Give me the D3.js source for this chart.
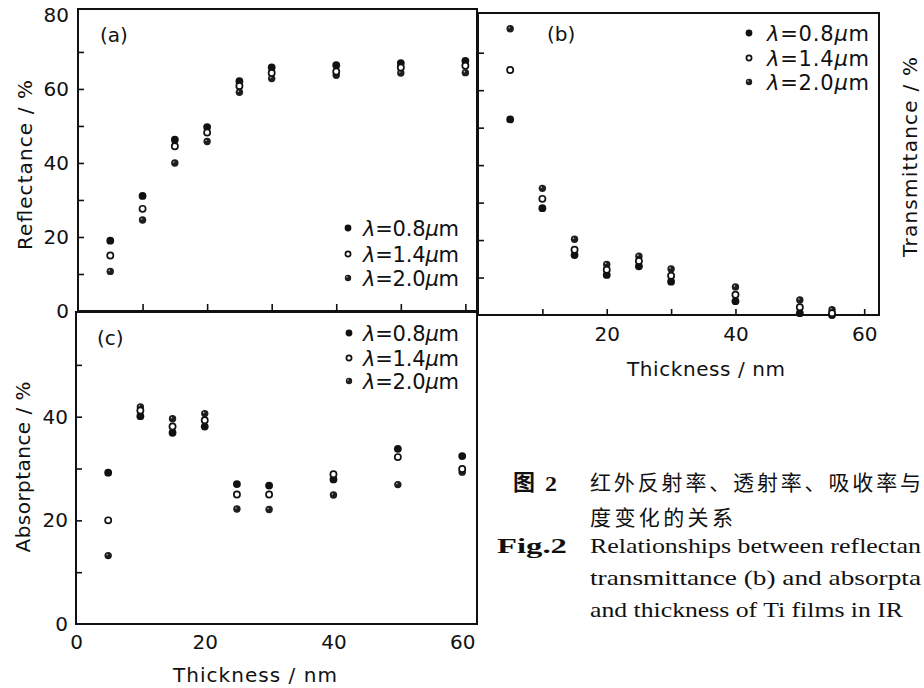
<!DOCTYPE html>
<html>
<head>
<meta charset="utf-8">
<script src="https://cdnjs.cloudflare.com/ajax/libs/d3/7.8.5/d3.min.js"></script>
<style>
  body { margin: 0; background: #fff; }
  .axis text { font-family: "DejaVu Sans", sans-serif; font-size: 20px; fill: #111; }
  .axis line { stroke: #111; stroke-width: 1.6; }
  .label { font-family: "DejaVu Sans", sans-serif; font-size: 20px; fill: #111; }
  .caption { font-family: "Liberation Serif", serif; font-size: 22px; fill: #111; }
  .cjk { font-family: "Noto Sans CJK SC", sans-serif; font-size: 21px; fill: #111; }
</style>
</head>
<body>
<div id="chart"></div>
<script>
// values

var thickness = [5, 10, 15, 20, 25, 30, 40, 50, 60];      // panels (a), (c)
var thicknessB = [5, 10, 15, 20, 25, 30, 40, 50, 55];     // panel (b)
var wavelengths = ["0.8", "1.4", "2.0"];

// reflectance (%)
var refl08 = [19.0, 31.1, 46.3, 49.7, 62.1, 65.8, 66.4, 67.0, 67.6];
var refl14 = [15.0, 27.6, 44.5, 48.2, 60.8, 64.3, 64.7, 65.8, 66.3];
var refl20 = [10.7, 24.6, 40.0, 45.8, 59.1, 62.8, 63.7, 64.3, 64.4];

// transmittance (%)
var trans08 = [52.2, 28.5, 16.0, 10.7, 13.0, 8.9, 3.7, 0.5, 0.0];
var trans14 = [65.4, 31.0, 17.4, 12.1, 14.4, 10.5, 5.4, 2.1, 0.5];
var trans20 = [76.4, 33.8, 20.2, 13.5, 15.7, 12.3, 7.5, 4.0, 1.4];

// absorptance (%)
var abs08 = [29.2, 40.1, 36.9, 38.1, 27.0, 26.7, 27.9, 33.8, 32.4];
var abs14 = [20.0, 41.2, 38.1, 39.3, 25.0, 25.0, 28.9, 32.2, 29.9];
var abs20 = [13.2, 41.9, 39.6, 40.6, 22.2, 22.1, 24.9, 26.9, 29.3];

// tick values
var ticksA = [0, 20, 40, 60, 80];
var minorA = [10, 20, 30, 40, 50, 60, 70];
var ticksB = [20, 40, 60];
var ticksC = [0, 20, 40];
var minorC = [10, 20, 30, 40, 50];
var ticksX = [0, 20, 40, 60];
var minorX = [10, 20, 30, 40, 50, 60];

//drawing area

var svgWidth = 924;
var svgHeight = 688;

var svg = d3
  .select("#chart")
  .append("svg")
  .attr("width", svgWidth)
  .attr("height", svgHeight);

svg.append("rect").attr("width", svgWidth).attr("height", svgHeight).attr("fill", "#fff");

// panel frames in pixels
var panelA = { left: 78, right: 477, top: 9, bottom: 311, xMax: 61.8, yMax: 81.6 };
var panelB = { left: 478, right: 879, top: 13, bottom: 315, xMax: 62.3, yMax: 80.6 };
var panelC = { left: 76, right: 477, top: 312, bottom: 624, xMax: 62.3, yMax: 60.2 };

var xA = d3.scaleLinear().domain([0, panelA.xMax]).range([panelA.left, panelA.right]);
var yA = d3.scaleLinear().domain([0, panelA.yMax]).range([panelA.bottom, panelA.top]);
var xB = d3.scaleLinear().domain([0, panelB.xMax]).range([panelB.left, panelB.right]);
var yB = d3.scaleLinear().domain([0, panelB.yMax]).range([panelB.bottom, panelB.top]);
var xC = d3.scaleLinear().domain([0, panelC.xMax]).range([panelC.left, panelC.right]);
var yC = d3.scaleLinear().domain([0, panelC.yMax]).range([panelC.bottom, panelC.top]);

[panelA, panelB, panelC].forEach(function (p) {
  svg.append("rect")
    .attr("x", p.left)
    .attr("y", p.top)
    .attr("width", p.right - p.left)
    .attr("height", p.bottom - p.top)
    .attr("fill", "none")
    .attr("stroke", "#111")
    .attr("stroke-width", 2);
});

function noDomain(g) {
  g.select(".domain").remove();
}

// axes: small inward ticks, labels where the figure has them

// (a)
svg.append("g").attr("class", "axis")
  .attr("transform", "translate(" + panelA.left + ",0)")
  .call(d3.axisLeft(yA).tickValues(minorA).tickSizeInner(-6).tickSizeOuter(0).tickFormat(""))
  .call(noDomain);
svg.append("g").attr("class", "axis")
  .attr("transform", "translate(" + panelA.left + ",0)")
  .call(d3.axisLeft(yA).tickValues(ticksA).tickSize(0).tickPadding(9))
  .call(noDomain);
svg.append("g").attr("class", "axis")
  .attr("transform", "translate(0," + panelA.bottom + ")")
  .call(d3.axisBottom(xA).tickValues(minorX).tickSizeInner(-7).tickSizeOuter(0).tickFormat(""))
  .call(noDomain);

// (b)
svg.append("g").attr("class", "axis")
  .attr("transform", "translate(" + panelB.left + ",0)")
  .call(d3.axisLeft(yB).tickValues(minorA).tickSizeInner(-6).tickSizeOuter(0).tickFormat(""))
  .call(noDomain);
svg.append("g").attr("class", "axis")
  .attr("transform", "translate(0," + panelB.bottom + ")")
  .call(d3.axisBottom(xB).tickValues(minorX).tickSizeInner(-6).tickSizeOuter(0).tickFormat(""))
  .call(noDomain);
svg.append("g").attr("class", "axis")
  .attr("transform", "translate(0," + panelB.bottom + ")")
  .call(d3.axisBottom(xB).tickValues(ticksB).tickSize(0).tickPadding(12))
  .call(noDomain);

// (c)
svg.append("g").attr("class", "axis")
  .attr("transform", "translate(" + panelC.left + ",0)")
  .call(d3.axisLeft(yC).tickValues(minorC).tickSizeInner(-6).tickSizeOuter(0).tickFormat(""))
  .call(noDomain);
svg.append("g").attr("class", "axis")
  .attr("transform", "translate(" + panelC.left + ",0)")
  .call(d3.axisLeft(yC).tickValues(ticksC).tickSize(0).tickPadding(8))
  .call(noDomain);
svg.append("g").attr("class", "axis")
  .attr("transform", "translate(0," + panelC.bottom + ")")
  .call(d3.axisBottom(xC).tickValues(ticksX).tickSize(0).tickPadding(11))
  .call(noDomain);

// axis titles

svg.append("text").attr("class", "label")
  .attr("transform", "translate(32,165) rotate(-90)")
  .style("text-anchor", "middle")
  .attr("textLength", 170)
  .text("Reflectance / %");

svg.append("text").attr("class", "label")
  .attr("transform", "translate(30,467) rotate(-90)")
  .style("text-anchor", "middle")
  .attr("textLength", 171)
  .text("Absorptance / %");

svg.append("text").attr("class", "label")
  .attr("transform", "translate(917,157) rotate(-90)")
  .style("text-anchor", "middle")
  .attr("textLength", 200)
  .text("Transmittance / %");

svg.append("text").attr("class", "label")
  .attr("x", 255).attr("y", 682)
  .style("text-anchor", "middle")
  .attr("textLength", 164)
  .text("Thickness / nm");

svg.append("text").attr("class", "label")
  .attr("x", 706).attr("y", 376)
  .style("text-anchor", "middle")
  .attr("textLength", 158)
  .text("Thickness / nm");

// panel letters
svg.append("text").attr("class", "label").attr("x", 100).attr("y", 42).text("(a)");
svg.append("text").attr("class", "label").attr("x", 547).attr("y", 41).text("(b)");
svg.append("text").attr("class", "label").attr("x", 97).attr("y", 345).text("(c)");

// markers: solid for 0.8, open for 1.4, dark speckled for 2.0

function marker(g, kind, cx, cy, r) {
  if (kind === "0.8") {
    g.append("circle").attr("cx", cx).attr("cy", cy).attr("r", r).attr("fill", "#111");
  } else if (kind === "1.4") {
    g.append("circle").attr("cx", cx).attr("cy", cy).attr("r", r - 0.8)
      .attr("fill", "#fff").attr("stroke", "#111").attr("stroke-width", 1.7);
  } else {
    g.append("circle").attr("cx", cx).attr("cy", cy).attr("r", r - 0.2).attr("fill", "#1e1e1e");
    g.append("circle").attr("cx", cx - 1).attr("cy", cy - 1).attr("r", 0.8).attr("fill", "#fff").attr("opacity", 0.7);
  }
}

function drawSeries(xs, ys, xScale, yScale, kind) {
  var g = svg.append("g");
  xs.forEach(function (x, i) {
    marker(g, kind, xScale(x), yScale(ys[i]), 3.9);
  });
}

drawSeries(thickness, refl08, xA, yA, "0.8");
drawSeries(thickness, refl20, xA, yA, "2.0");
drawSeries(thickness, refl14, xA, yA, "1.4");

drawSeries(thicknessB, trans08, xB, yB, "0.8");
drawSeries(thicknessB, trans20, xB, yB, "2.0");
drawSeries(thicknessB, trans14, xB, yB, "1.4");

drawSeries(thickness, abs08, xC, yC, "0.8");
drawSeries(thickness, abs20, xC, yC, "2.0");
drawSeries(thickness, abs14, xC, yC, "1.4");

// legends

function legend(mx, tx, rows, len) {
  var g = svg.append("g");
  wavelengths.forEach(function (w, i) {
    marker(g, w, mx, rows[i], 3.4);
    var t = g.append("text").attr("class", "label")
      .attr("x", tx).attr("y", rows[i] + 8)
      .style("font-size", "21px")
      .attr("textLength", len);
    t.append("tspan").style("font-style", "italic").text("λ");
    t.append("tspan").text("=" + w);
    t.append("tspan").style("font-style", "italic").text("μ");
    t.append("tspan").text("m");
  });
}

legend(348, 363, [228, 254, 278], 96);
legend(749, 767, [33, 58, 82], 102);
legend(349, 363, [333, 358, 381], 96);

// caption, only the part that shows inside the crop

svg.append("text").attr("class", "cjk")
  .attr("x", 513).attr("y", 490)
  .style("font-weight", "bold").style("font-size", "22px")
  .text("图");
svg.append("text").attr("class", "caption")
  .attr("x", 545).attr("y", 491)
  .style("font-weight", "bold")
  .attr("textLength", 12).attr("lengthAdjust", "spacingAndGlyphs")
  .text("2");

svg.append("text").attr("class", "cjk")
  .attr("x", 590).attr("y", 490)
  .attr("textLength", 331)
  .text("红外反射率、透射率、吸收率与");
svg.append("text").attr("class", "cjk")
  .attr("x", 590).attr("y", 525)
  .attr("textLength", 143)
  .text("度变化的关系");

svg.append("text").attr("class", "caption")
  .attr("x", 497).attr("y", 553)
  .style("font-weight", "bold")
  .attr("textLength", 70).attr("lengthAdjust", "spacingAndGlyphs")
  .text("Fig.2");

var captionLines = [
  "Relationships between reflectan",
  "transmittance (b) and absorpta",
  "and thickness of Ti films in IR"
];
var captionWidths = [331, 331, 313];

captionLines.forEach(function (s, i) {
  svg.append("text").attr("class", "caption")
    .attr("x", 590).attr("y", 553 + i * 32)
    .attr("textLength", captionWidths[i])
    .attr("lengthAdjust", "spacingAndGlyphs")
    .text(s);
});
</script>
</body>
</html>
